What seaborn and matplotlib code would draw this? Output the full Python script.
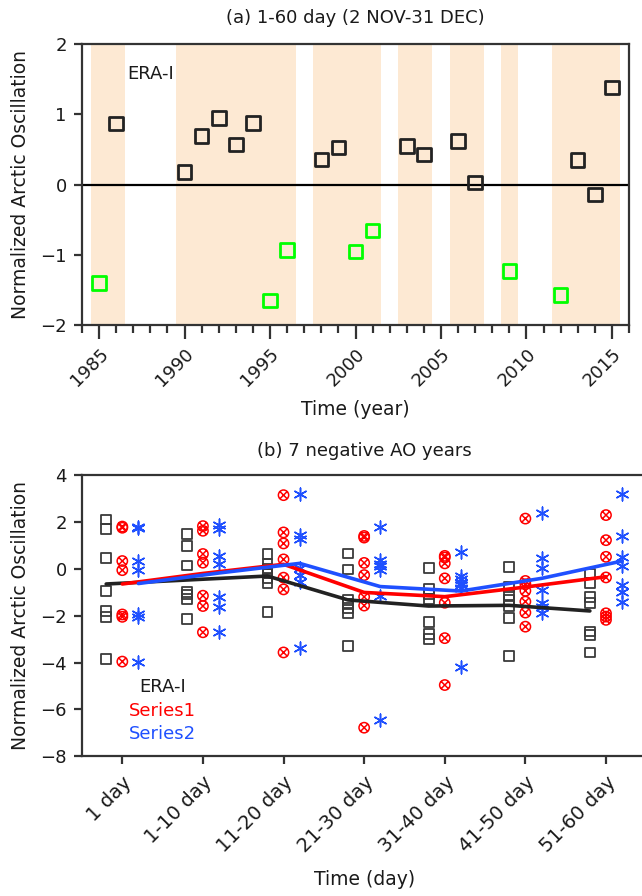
import numpy as np
import pandas as pd
import matplotlib
matplotlib.use("Agg")
import matplotlib.pyplot as plt
from matplotlib.path import Path
from matplotlib.markers import MarkerStyle
from matplotlib.ticker import MultipleLocator
import seaborn as sns

# ---------------- data: panel (a) ----------------
era_years = [1986, 1990, 1991, 1992, 1993, 1994, 1998, 1999, 2003, 2004, 2006, 2007, 2013, 2014, 2015]
era_vals = [0.87, 0.18, 0.69, 0.95, 0.57, 0.88, 0.36, 0.53, 0.55, 0.43, 0.62, 0.03, 0.35, -0.14, 1.38]
neg_years = [1985, 1995, 1996, 2000, 2001, 2009, 2012]
neg_vals = [-1.40, -1.65, -0.93, -0.95, -0.65, -1.23, -1.57]

# ---------------- data: panel (b) ----------------
day_labels = ["1 day", "1-10 day", "11-20 day", "21-30 day", "31-40 day", "41-50 day", "51-60 day"]
era_pts = [
    [2.10, 1.70, 0.45, -0.95, -1.80, -2.05, -3.85],
    [1.48, 0.97, 0.14, -1.00, -1.10, -1.30, -2.14],
    [0.63, 0.20, 0.00, -0.20, -0.40, -0.60, -1.84],
    [0.65, -0.03, -1.33, -1.50, -1.69, -1.87, -3.29],
    [0.03, -0.85, -1.08, -1.30, -2.28, -2.78, -3.00],
    [0.09, -0.79, -1.12, -1.33, -1.59, -2.11, -3.71],
    [-0.20, -0.62, -1.19, -1.47, -2.68, -2.82, -3.57],
]
s1_pts = [
    [1.80, 1.75, 0.33, -0.06, -1.95, -2.05, -3.96],
    [1.82, 1.62, 0.63, 0.26, -1.15, -1.59, -2.71],
    [3.14, 1.55, 1.08, 0.40, -0.38, -0.88, -3.57],
    [1.40, 1.33, 0.25, -0.27, -1.20, -1.57, -6.78],
    [0.55, 0.48, 0.23, -0.41, -1.45, -2.96, -4.96],
    [2.14, -0.52, -0.66, -0.94, -1.40, -1.87, -2.47],
    [2.29, 1.22, 0.51, -0.37, -1.90, -2.04, -2.18],
]
s2_pts = [
    [1.80, 1.75, 0.33, -0.06, -1.95, -2.05, -3.96],
    [1.85, 1.70, 0.55, 0.20, -1.20, -1.65, -2.70],
    [3.21, 1.43, 1.25, 0.02, -0.27, -0.55, -3.39],
    [1.79, 0.37, 0.20, 0.11, -0.05, -1.16, -6.44],
    [0.70, -0.30, -0.45, -0.60, -0.70, -0.80, -4.20],
    [2.36, 0.44, 0.02, -0.91, -1.47, -1.62, -1.87],
    [3.17, 1.40, 0.51, 0.11, -0.69, -0.98, -1.40],
]
era_line = [-0.65, -0.48, -0.31, -1.33, -1.59, -1.56, -1.80]
s1_line = [-0.65, -0.20, 0.19, -1.01, -1.19, -0.78, -0.34]
s2_line = [-0.63, -0.18, 0.23, -0.76, -0.95, -0.41, 0.33]

# ---------------- style ----------------
sns.set_theme(style="ticks")
plt.rcParams["font.family"] = ["DejaVu Sans"]
plt.rcParams["axes.unicode_minus"] = True

SPINE = "#333333"
TXT = "#1a1a1a"
PEACH = "#fde9d3"
GREEN = "#00ff00"
RED = "#ff0000"
BLUE = "#1f50ff"
FS_TICK = 13
FS_LAB = 13.5
FS_TITLE = 13

fig = plt.figure(figsize=(6.42, 8.96), dpi=100)

# ======================= panel (a) =======================
axa = fig.add_axes([0.12773, 0.63694, 0.85202, 0.31395])
for yr in sorted(era_years + neg_years):
    axa.axvspan(yr - 0.5, yr + 0.5, color=PEACH, lw=0, zorder=0)
axa.axhline(0, color="black", lw=1.6, zorder=1)

dfa1 = pd.DataFrame({"year": era_years, "val": era_vals})
dfa2 = pd.DataFrame({"year": neg_years, "val": neg_vals})
sns.scatterplot(data=dfa1, x="year", y="val", marker="s", s=95, facecolor="none",
                edgecolor="#222222", linewidth=2.0, ax=axa, zorder=3)
sns.scatterplot(data=dfa2, x="year", y="val", marker="s", s=95, facecolor="none",
                edgecolor=GREEN, linewidth=2.0, ax=axa, zorder=3)

axa.set_xlim(1984, 2016)
axa.set_ylim(-2, 2)
axa.set_yticks([-2, -1, 0, 1, 2])
axa.set_xticks(list(range(1985, 2016, 5)))
axa.xaxis.set_minor_locator(MultipleLocator(1))
axa.set_xticklabels([str(y) for y in range(1985, 2016, 5)], rotation=45, ha="right",
                    rotation_mode="anchor")
axa.tick_params(axis="x", which="major", length=10, width=1.6, color=SPINE,
                labelsize=FS_TICK, labelcolor=TXT, pad=4)
axa.tick_params(axis="x", which="minor", length=6, width=1.6, color=SPINE)
axa.tick_params(axis="y", which="major", length=6, width=1.6, color=SPINE,
                labelsize=FS_TICK, labelcolor=TXT, pad=5)
axa.text(1988, 1.58, "ERA-I", ha="center", va="center", fontsize=FS_TICK, color=TXT)
axa.set_title("(a) 1-60 day (2 NOV-31 DEC)", fontsize=FS_TITLE, pad=15, color=TXT)
axa.set_xlabel("Time (year)", fontsize=FS_LAB, labelpad=7, color=TXT)
axa.set_ylabel("Normalized Arctic Oscillation", fontsize=FS_LAB, labelpad=7, color=TXT)
for sp in axa.spines.values():
    sp.set_color(SPINE)
    sp.set_linewidth(1.6)

# ======================= panel (b) =======================
axb = fig.add_axes([0.12773, 0.15592, 0.87897, 0.31395])

xpos = np.arange(len(day_labels))
rows = []
for i in range(len(day_labels)):
    for v in era_pts[i]:
        rows.append(("ERA-I", xpos[i] - 0.2, v))
    for v in s1_pts[i]:
        rows.append(("Series1", xpos[i], v))
    for v in s2_pts[i]:
        rows.append(("Series2", xpos[i] + 0.2, v))
dfb = pd.DataFrame(rows, columns=["src", "x", "val"])

circ = Path.unit_circle()
d = 0.72
xs = Path([[-d, -d], [d, d], [-d, d], [d, -d]],
          [Path.MOVETO, Path.LINETO, Path.MOVETO, Path.LINETO])
circx = Path.make_compound_path(circ, xs)

sns.scatterplot(data=dfb[dfb.src == "ERA-I"], x="x", y="val", marker="s", s=50,
                facecolor="none", edgecolor="#3a3a3a", linewidth=1.3, ax=axb, zorder=3)
sns.scatterplot(data=dfb[dfb.src == "Series1"], x="x", y="val", marker=MarkerStyle(circx), s=55,
                facecolor="none", edgecolor=RED, linewidth=1.1, ax=axb, zorder=3)
sns.scatterplot(data=dfb[dfb.src == "Series2"], x="x", y="val", marker=(6, 2, 0), s=85,
                color=BLUE, linewidth=1.1, ax=axb, zorder=3)

dfl = pd.DataFrame({
    "x": np.concatenate([xpos - 0.2, xpos, xpos + 0.2]),
    "val": era_line + s1_line + s2_line,
    "src": ["ERA-I"] * 7 + ["Series1"] * 7 + ["Series2"] * 7,
})
sns.lineplot(data=dfl, x="x", y="val", hue="src",
             palette={"ERA-I": "#222222", "Series1": RED, "Series2": BLUE},
             linewidth=2.6, legend=False, ax=axb, zorder=4)

axb.set_xlim(-0.5, 6.5)
axb.set_ylim(-8, 4)
axb.set_yticks([-8, -6, -4, -2, 0, 2, 4])
axb.set_xticks(xpos)
axb.set_xticklabels(day_labels, rotation=45, ha="right", rotation_mode="anchor")
axb.tick_params(axis="x", which="major", length=6, width=1.6, color=SPINE,
                labelsize=14, labelcolor=TXT, pad=6)
axb.tick_params(axis="y", which="major", length=6, width=1.6, color=SPINE,
                labelsize=FS_TICK, labelcolor=TXT, pad=5)
axb.text(0.5, -5.05, "ERA-I", ha="center", va="center", fontsize=FS_TICK, color=TXT)
axb.text(0.5, -6.05, "Series1", ha="center", va="center", fontsize=FS_TICK, color=RED)
axb.text(0.5, -7.05, "Series2", ha="center", va="center", fontsize=FS_TICK, color=BLUE)
axb.set_title("(b) 7 negative AO years", fontsize=FS_TITLE, pad=14, color=TXT)
axb.set_xlabel("Time (day)", fontsize=FS_LAB, labelpad=10, color=TXT)
axb.set_ylabel("Normalized Arctic Oscillation", fontsize=FS_LAB, labelpad=7, color=TXT)
for sp in axb.spines.values():
    sp.set_color(SPINE)
    sp.set_linewidth(1.6)

fig.savefig("out.png", dpi=100)
